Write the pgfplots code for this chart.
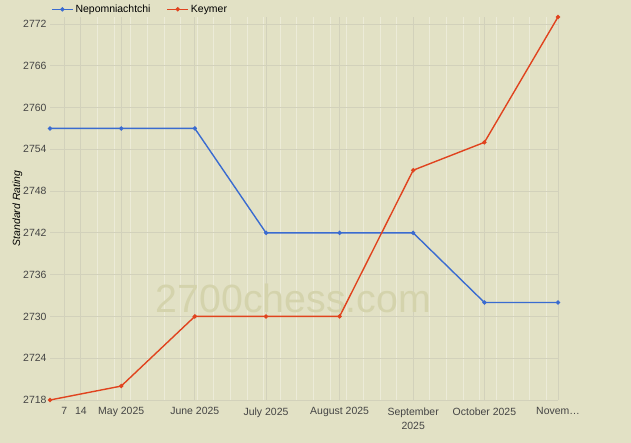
\documentclass[border=0pt]{standalone}
\usepackage{pgfplots}
\pgfplotsset{compat=1.18}
\usepackage{fontspec}
\setmainfont{Liberation Sans}
\definecolor{bg}{HTML}{E2E1C5}
\definecolor{hgrid}{HTML}{D2D1BB}
\definecolor{wgrid}{HTML}{ECEBD8}
\definecolor{nepo}{HTML}{3A6BD0}
\definecolor{keym}{HTML}{E0431E}
\definecolor{wm}{HTML}{D4D3AC}
\definecolor{lbl}{HTML}{444444}
\begin{document}
\begin{tikzpicture}
\useasboundingbox (0,0) rectangle (631bp,443bp);
\fill[bg] (0,0) rectangle (631bp,443bp);
\begin{axis}[
  at={(50bp,43bp)}, anchor=south west,
  scale only axis, width=508bp, height=383bp,
  xmin=0, xmax=214, ymin=2718, ymax=2773,
  clip=false,
  axis line style={draw=none},
  major tick length=0pt, minor tick length=0pt,
  tick style={draw=none},
  font=\fontsize{10.5}{14}\selectfont,
  /pgf/number format/assume math mode=true,
  /pgf/number format/1000 sep={},
  ytick={2718,2724,...,2772},
  yticklabel style={text=lbl},
  xtick={30,61,91,122,153,183,214},
  xticklabels={May 2025,June 2025,July 2025,August 2025,{September\\2025},October 2025,Novem…},
  xticklabel style={text=lbl, align=center, yshift=-4bp},
  extra x ticks={6,13},
  extra x tick labels={7,14},
  extra x tick style={grid style={wgrid,line width=0.8pt}, xticklabel style={text=lbl}},
  minor xtick={6,13,20,27,34,41,48,55,62,69,76,83,90,97,104,111,118,125,132,139,146,153,160,167,174,181,188,195,202,209},
  xminorgrids, xmajorgrids, ymajorgrids,
  minor grid style={wgrid,line width=0.8pt},
  major grid style={hgrid,line width=0.8pt},
  ylabel={\itshape Standard Rating},
  ylabel style={text=black, yshift=-6bp},
  legend columns=2,
  legend style={at={(0,1)}, anchor=south west, draw=none, fill=none, xshift=-2bp, yshift=-1bp,
    font=\fontsize{10.5}{12}\selectfont, /tikz/every even column/.append style={column sep=14bp}},
  legend image code/.code={\draw[mark repeat=2,mark phase=2,#1] plot coordinates {(0bp,0bp) (10.5bp,0bp) (21bp,0bp)};},
]
\node[text=wm, font=\fontsize{39.5}{40}\selectfont] at (axis cs:102.5,2732.6) {2700chess.com};
\addplot[color=nepo, line width=1.4pt, mark=*, mark size=1.4pt] coordinates {
(0,2757) (30,2757) (61,2757) (91,2742) (122,2742) (153,2742) (183,2732) (214,2732)};
\addlegendentry{Nepomniachtchi}
\addplot[color=keym, line width=1.4pt, mark=*, mark size=1.4pt] coordinates {
(0,2718) (30,2720) (61,2730) (91,2730) (122,2730) (153,2751) (183,2755) (214,2773)};
\addlegendentry{Keymer}
\end{axis}
\end{tikzpicture}
\end{document}
